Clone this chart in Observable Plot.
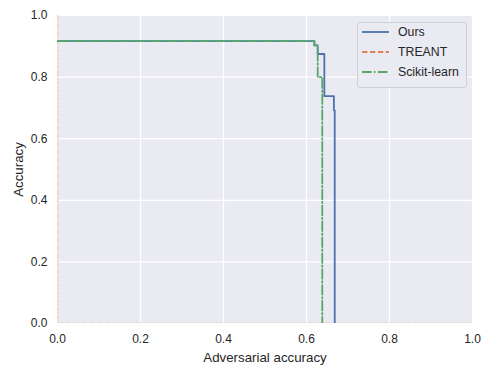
<!DOCTYPE html>
<html>
<head>
<meta charset="utf-8">
<script src="https://cdn.jsdelivr.net/npm/d3@7"></script>
<script src="https://cdn.jsdelivr.net/npm/@observablehq/plot@0.6"></script>
<style>
  html, body { margin: 0; padding: 0; background: #ffffff; }
  #wrap { position: relative; width: 483px; height: 369px; font-family: "Liberation Sans", Arial, sans-serif; color: #262626; }
  #legend { position: absolute; left: 357px; top: 22px; width: 110px; height: 66px; box-sizing: border-box;
    border: 1px solid #d0d0d0; border-radius: 3px; background: rgba(234,234,242,0.8); }
  #legend .row { position: absolute; left: 4px; height: 18px; display: flex; align-items: center; font-size: 12.3px; color: #262626; }
  #legend .row svg { margin-right: 9px; }
</style>
</head>
<body>
<div id="wrap"></div>
<script>
// Data (step curves, "step-after")
const seriesNames = ["Ours", "TREANT", "Scikit-learn"];
const colors = ["#4C72B0", "#DD8452", "#55A868"];

const oursX = [0, 0.619, 0.627, 0.643, 0.666, 0.668];
const oursY = [0.917, 0.903, 0.875, 0.738, 0.692, 0];

const treantX = [0, 0, 1];
const treantY = [1, 0, 0];

const sklearnX = [0, 0.619, 0.627, 0.638];
const sklearnY = [0.917, 0.903, 0.80, 0];

const ticks = [0, 0.2, 0.4, 0.6, 0.8, 1.0];

const toRows = (xs, ys) => xs.map((x, i) => ({x, y: ys[i]}));
const ours = toRows(oursX, oursY);
const treant = toRows(treantX, treantY);
const sklearn = toRows(sklearnX, sklearnY);

const chart = Plot.plot({
  width: 483,
  height: 369,
  marginLeft: 57,
  marginRight: 11,
  marginTop: 15,
  marginBottom: 46,
  style: {background: "#ffffff", fontFamily: "'Liberation Sans', Arial, sans-serif", fontSize: "12px", color: "#262626"},
  x: {domain: [0, 1]},
  y: {domain: [0, 1]},
  marks: [
    Plot.frame({fill: "#EAEAF2", stroke: null}),
    Plot.gridX(ticks, {stroke: "#ffffff", strokeOpacity: 1, strokeWidth: 1.2}),
    Plot.gridY(ticks, {stroke: "#ffffff", strokeOpacity: 1, strokeWidth: 1.2}),
    Plot.axisX(ticks, {tickSize: 0, tickPadding: 11, fontSize: 12, tickFormat: d3.format(".1f"), label: null}),
    Plot.axisX({ticks: [], tickSize: 0, label: "Adversarial accuracy", labelAnchor: "center", labelArrow: "none", labelOffset: 38, fontSize: 13.3}),
    Plot.axisY(ticks, {tickSize: 0, tickPadding: 10, fontSize: 12, tickFormat: d3.format(".1f"), label: null}),
    Plot.axisY({ticks: [], tickSize: 0, label: "Accuracy", labelAnchor: "center", labelArrow: "none", labelOffset: 44, fontSize: 13.3}),
    Plot.line(treant, {x: "x", y: "y", stroke: colors[1], strokeOpacity: 0.35, strokeWidth: 1.8, strokeDasharray: "5.5,2.4", clip: true}),
    Plot.line(ours, {x: "x", y: "y", curve: "step-after", stroke: colors[0], strokeWidth: 1.8, clip: true}),
    Plot.line(sklearn, {x: "x", y: "y", curve: "step-after", stroke: colors[2], strokeWidth: 1.8, strokeDasharray: "9.6,2.4,1.5,2.4", clip: true})
  ]
});

const wrap = document.getElementById("wrap");
wrap.appendChild(chart);

// Legend overlay
const legend = document.createElement("div");
legend.id = "legend";
const dashes = [null, "5.5,2.4", "9.6,2.4,1.5,2.4"];
seriesNames.forEach((name, i) => {
  const row = document.createElement("div");
  row.className = "row";
  row.style.top = (0 + i * 20) + "px";
  row.innerHTML = `<svg width="27" height="4"><line x1="0" y1="2" x2="27" y2="2" stroke="${colors[i]}" stroke-width="1.8" ${dashes[i] ? `stroke-dasharray="${dashes[i]}"` : ""}/></svg><span>${name}</span>`;
  legend.appendChild(row);
});
wrap.appendChild(legend);
</script>
</body>
</html>
